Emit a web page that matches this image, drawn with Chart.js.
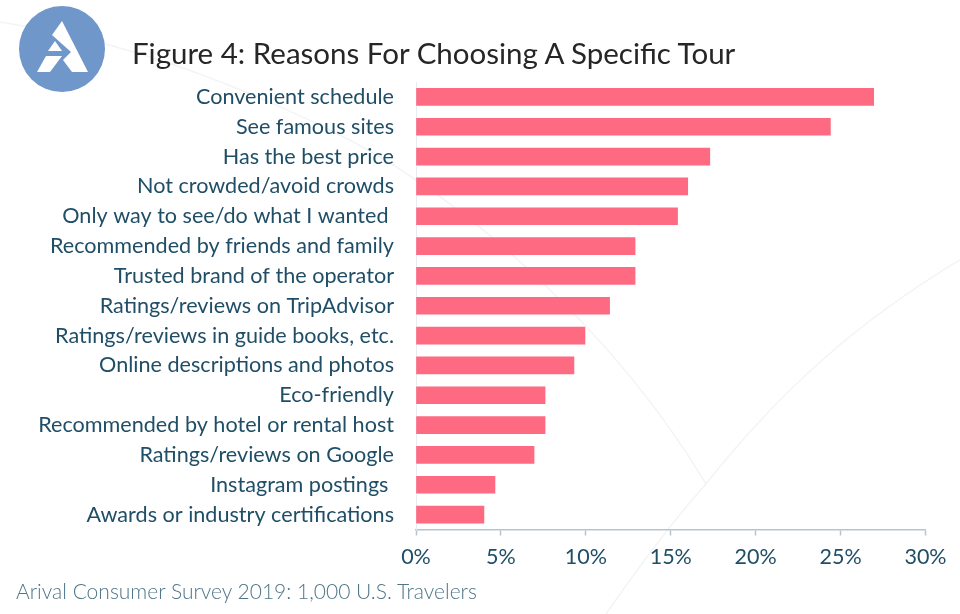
<!DOCTYPE html>
<html>
<head>
<meta charset="utf-8">
<script src="https://cdn.jsdelivr.net/npm/chart.js@4/dist/chart.umd.min.js"></script>
<style>
  html, body { margin: 0; padding: 0; background: #fff; }
  #wrap { position: relative; width: 960px; height: 614px; overflow: hidden; font-family: Lato, sans-serif; }
  #bg, #logo, canvas { position: absolute; left: 0; top: 0; }
  #title { position: absolute; left: 132px; top: 35px; font-size: 29.5px; line-height: 36px; color: #262626; white-space: nowrap; }
  #source { position: absolute; left: 16px; top: 579px; font-size: 21px; line-height: 24px; font-weight: 300; color: #4f7688; white-space: nowrap; }
</style>
</head>
<body>
<div id="wrap">
  <svg id="bg" width="960" height="614" fill="none" stroke="#f3f4f5" stroke-width="1.5">
    <path d="M0 22 C90 36 190 62 330 130 C470 198 620 340 706 484"/>
    <path d="M960 260 C860 320 780 390 706 484 C670 524 640 565 606 614"/>
  </svg>
  <canvas id="chart" width="960" height="614"></canvas>
  <svg id="logo" width="130" height="100">
    <circle cx="62" cy="49" r="43" fill="#7097c9"/>
    <path d="M62 21 L88 72 L72 72 L63 60 L71 52 L52 35 Z" fill="#fff"/>
    <path d="M48 51 L62 51 L55 41 Z" fill="#fff"/>
    <path d="M37 72 L50 72 L62 56 L46 56 Z" fill="#fff"/>
  </svg>
  <div id="title">Figure 4: Reasons For Choosing A Specific Tour</div>
  <div id="source">Arival Consumer Survey 2019: 1,000 U.S. Travelers</div>
</div>
<script>
const categories = [
  'Convenient schedule',
  'See famous sites',
  'Has the best price',
  'Not crowded/avoid crowds',
  'Only way to see/do what I wanted ',
  'Recommended by friends and family',
  'Trusted brand of the operator',
  'Ratings/reviews on TripAdvisor',
  'Ratings/reviews in guide books, etc.',
  'Online descriptions and photos',
  'Eco-friendly',
  'Recommended by hotel or rental host',
  'Ratings/reviews on Google',
  'Instagram postings ',
  'Awards or industry certifications'
];
const shares = [26.95, 24.4, 17.3, 16, 15.4, 12.9, 12.9, 11.4, 9.95, 9.3, 7.6, 7.6, 6.95, 4.65, 4];
const tickStep = 5;
const tickMax = 30;

const textColor = '#1f4e66';
const axisColor = '#b4c5cf';

new Chart(document.getElementById('chart').getContext('2d'), {
  type: 'bar',
  data: {
    labels: categories,
    datasets: [{
      data: shares,
      backgroundColor: '#fe6a82',
      barThickness: 17
    }]
  },
  options: {
    indexAxis: 'y',
    responsive: false,
    animation: false,
    layout: { padding: { top: 82, right: 34.5, left: 0, bottom: 0 } },
    plugins: {
      legend: { display: false },
      tooltip: { enabled: false }
    },
    scales: {
      x: {
        min: 0,
        max: tickMax,
        afterFit: (axis) => { axis.height = 84.5; },
        border: { color: axisColor, width: 1.5 },
        grid: { drawOnChartArea: false, drawTicks: true, tickLength: 6, tickColor: axisColor, tickWidth: 1.5 },
        ticks: {
          stepSize: tickStep,
          padding: 9,
          maxRotation: 0,
          color: textColor,
          font: { family: 'Lato', size: 21.5 },
          callback: (v) => v + '%'
        }
      },
      y: {
        afterFit: (axis) => { axis.width = 416; },
        border: { color: '#e6ecef', width: 1 },
        grid: { display: true, drawOnChartArea: false, drawTicks: false },
        ticks: {
          padding: 22,
          autoSkip: false,
          color: textColor,
          font: { family: 'Lato', size: 21.6 }
        }
      }
    }
  }
});
</script>
</body>
</html>
